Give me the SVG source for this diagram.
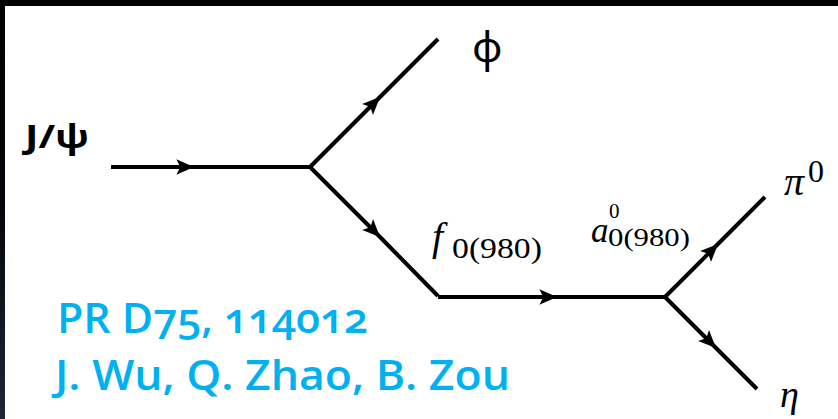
<svg xmlns="http://www.w3.org/2000/svg" width="838" height="419" viewBox="0 0 838 419">
  <defs>
    <linearGradient id="leftbar" x1="0" y1="0" x2="0" y2="1">
      <stop offset="0" stop-color="#000000"/>
      <stop offset="0.5" stop-color="#05070c"/>
      <stop offset="1" stop-color="#1e2638"/>
    </linearGradient>
    <marker id="arr" markerUnits="userSpaceOnUse" markerWidth="22" markerHeight="20" viewBox="-18 -9 20 18" refX="0" refY="0" orient="auto">
      <path d="M0,0 L-16,-7 L-12.5,0 L-16,7 Z" fill="#000"/>
    </marker>
    <style>
      .ln { fill: none; stroke: #000; stroke-width: 4; stroke-linejoin: miter; marker-mid: url(#arr); }
      .math { font-family: "Liberation Serif", "DejaVu Serif", serif; fill: #000; }
      .phi { font-family: "Noto Sans", "Open Sans", sans-serif; fill: #000; }
      .it { font-style: italic; }
      .sans { font-family: "Open Sans", "Noto Sans", sans-serif; font-weight: 700; }
      .ref { font-family: "Open Sans", "Noto Sans", sans-serif; font-weight: 600; fill: #00b0f0; font-size: 42px; font-variant-numeric: oldstyle-nums; }
    </style>
  </defs>

  <rect x="0" y="0" width="838" height="419" fill="#ffffff"/>
  <rect x="0" y="0" width="838" height="6" fill="#000"/>
  <rect x="0" y="0" width="5" height="419" fill="url(#leftbar)"/>

  <g id="connectors">
    <path class="ln" d="M111,167 L194,167 L310,167"/>
    <path class="ln" d="M310,167 L380,97 L438,39"/>
    <path class="ln" d="M310,167 L380,237 L438,296"/>
    <path class="ln" d="M438,297 L557,297 L665,297"/>
    <path class="ln" d="M665,297 L718,244 L765,197"/>
    <path class="ln" d="M665,297 L716,348 L757,389"/>
  </g>

  <g id="jpsi">
    <text class="sans" x="25" y="148" font-size="32" textLength="64" lengthAdjust="spacingAndGlyphs">J/ψ</text>
  </g>
  <g id="phi">
    <text class="phi" x="472" y="62" font-size="42">φ</text>
  </g>
  <g id="f0">
    <text class="math it" x="432" y="250" font-size="40">f</text>
    <text class="math" x="452" y="258" font-size="29" textLength="90" lengthAdjust="spacingAndGlyphs">0(980)</text>
  </g>
  <g id="a0">
    <text class="math it" x="591" y="242" font-size="35">a</text>
    <text class="math" x="609" y="218" font-size="21">0</text>
    <text class="math" x="608" y="246" font-size="25" textLength="82" lengthAdjust="spacingAndGlyphs">0(980)</text>
  </g>
  <g id="pi0">
    <text class="math it" x="784" y="195" font-size="40">π</text>
    <text class="math" x="808" y="182" font-size="32">0</text>
  </g>
  <g id="eta">
    <text class="math it" x="780" y="407" font-size="38">η</text>
  </g>

  <g id="reference">
    <text class="ref" x="57" y="333" textLength="311" lengthAdjust="spacingAndGlyphs">PR D75, 114012</text>
    <text class="ref" x="55" y="390" textLength="455" lengthAdjust="spacingAndGlyphs">J. Wu, Q. Zhao, B. Zou</text>
  </g>
</svg>
